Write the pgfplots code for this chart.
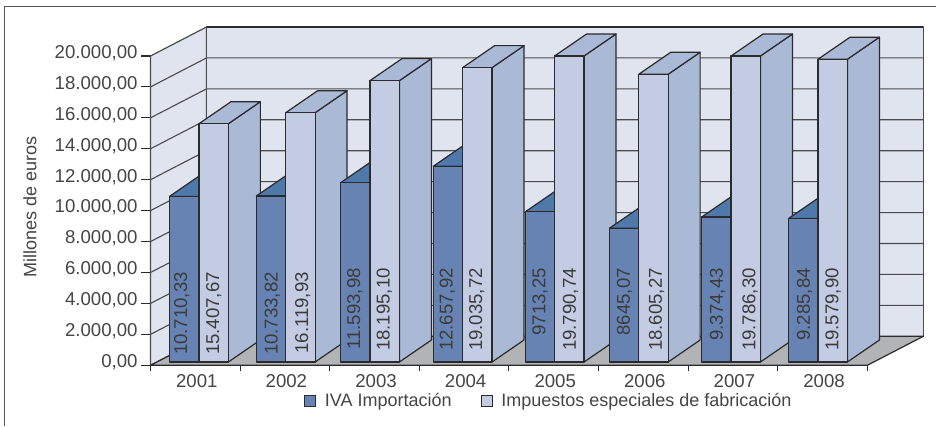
\documentclass[border=0pt]{standalone}
\usepackage{fontspec}
\usepackage{pgfplots}
\pgfplotsset{compat=1.18}
\setmainfont{Liberation Sans}

\definecolor{ivafront}{HTML}{6783B3}
\definecolor{ivatop}{HTML}{4F78AB}
\definecolor{impfront}{HTML}{C3CCE2}
\definecolor{impside}{HTML}{A9B9D6}
\definecolor{wall}{HTML}{E0E4EF}
\definecolor{floorc}{HTML}{B2B3B5}
\definecolor{edge}{HTML}{2B2B2D}
\definecolor{txt}{HTML}{454545}

\newcommand{\fs}{\fontsize{18bp}{21bp}\selectfont}
\newcommand{\fl}{\fontsize{18.6bp}{21bp}\selectfont}

% depth of the bars and of the box, in axis units
\def\bw{0.328}
\def\ddx{0.357}
\def\ddy{1422.6}
\def\base{213}
\def\wdx{0.625}
\def\wdy{1875}

\newcommand{\poly}[2]{\edef\tmp{\noexpand\addplot[forget plot,line join=round,line width=1.2bp,#1] coordinates {#2} -- cycle;}\tmp}

\newcommand{\gridline}[1]{\edef\tmp{\noexpand\addplot[forget plot,line width=1.1bp,draw=edge!85] coordinates {(-0.5,#1) (\fpeval{-0.5+\wdx},\fpeval{#1+\wdy}) (8.125,\fpeval{#1+\wdy})};}\tmp}

% #2 value, #3 left end of the bar, #4 colour
\newcommand{\onebar}[4]{%
  \poly{fill=#4,draw=edge}{(\fpeval{#3+\bw},\fpeval{#2+\base}) (\fpeval{#3+\bw+\ddx},\fpeval{#2+\base+\ddy}) (\fpeval{#3+\bw+\ddx},\fpeval{\base+\ddy}) (\fpeval{#3+\bw},\base)}%
}
\newcommand{\barface}[5]{%
  \poly{fill=#4,draw=edge}{(#3,\fpeval{#2+\base}) (\fpeval{#3+\ddx},\fpeval{#2+\base+\ddy}) (\fpeval{#3+\bw+\ddx},\fpeval{#2+\base+\ddy}) (\fpeval{#3+\bw},\fpeval{#2+\base})}%
  \poly{fill=#5,draw=edge}{(#3,\base) (#3,\fpeval{#2+\base}) (\fpeval{#3+\bw},\fpeval{#2+\base}) (\fpeval{#3+\bw},\base)}%
}
% #1 pos, #2 iva, #3 impuestos, #4 #5 their labels, #6 where the labels end
\newcommand{\yearbars}[6]{%
  \onebar{#1}{#2}{\fpeval{#1-\bw}}{ivatop}%
  \barface{#1}{#2}{\fpeval{#1-\bw}}{ivatop}{ivafront}%
  \onebar{#1}{#3}{#1}{impside}%
  \barface{#1}{#3}{#1}{impside}{impfront}%
  \def\labtop{#6}\def\labiva{#4}\def\labimp{#5}%
}
% label centres across the bars, as they stand in the picture
\newcommand{\barlabels}[2]{%
  \edef\tmp{\noexpand\node[barlabel] at (axis cs:#1,\labtop) {\labiva};
    \noexpand\node[barlabel] at (axis cs:#2,\labtop) {\labimp};}\tmp
}

\begin{document}
\begin{tikzpicture}[x=1bp,y=1bp,barlabel/.style={rotate=90,anchor=east,inner sep=0pt,font=\fl,text=txt!85!black}]
\useasboundingbox (0,0) rectangle (936,426);
\draw[line width=1.1bp,draw=edge!80] (4.6,0) -- (4.6,419.3) -- (936,419.3);
\begin{axis}[
    at={(150.5bp,60.7bp)}, anchor=south west,
    scale only axis, width=772.8bp, height=338.3bp,
    clip=false,
    xmin=-0.5, xmax=8.125, ymin=0, ymax=21875,
    axis line style={draw=none},
    tick align=outside, xtick pos=bottom, ytick pos=left,
    major tick length=9.5bp, minor tick length=6bp,
    tick style={line width=1.1bp,draw=edge},
    major x tick style={draw=none},
    xtick={0,...,7},
    xticklabels={2001,2002,2003,2004,2005,2006,2007,2008},
    minor xtick={-0.5,0.5,...,7.5},
    ytick={0,2000,...,20000},
    scaled y ticks=false,
    /pgf/number format/.cd, fixed, fixed zerofill, precision=2, use comma, 1000 sep={.}, assume math mode=true,
    /pgfplots/.cd,
    every tick label/.append style={font=\fl,text=txt},
    yticklabel style={yshift=3bp},
    xticklabel style={xshift=1.5bp,yshift=3.5bp},
    ylabel={Millones de euros},
    every axis y label/.style={at={(axis cs:-1.845,10268)},rotate=90,anchor=center,font=\fs,text=txt},
    legend columns=2,
    legend cell align=left,
    legend style={at={(axis description cs:0.1986,-0.1055)},anchor=west,draw=none,fill=none,inner sep=0pt,font=\fs,text=txt,
      /tikz/every even column/.append style={column sep=27bp}},
    legend image code/.code={\draw[#1,line width=1.1bp] (0bp,-5.5bp) rectangle (11bp,5.5bp); \path (18bp,0bp);},
  ]
  \addlegendimage{fill=ivafront,draw=edge}
  \addlegendimage{fill=impfront,draw=edge}
  \legend{IVA Importación,Impuestos especiales de fabricación}

  % box
  \poly{fill=wall,draw=edge!85}{(-0.5,0) (-0.5,20000) (\fpeval{-0.5+\wdx},21875) (\fpeval{-0.5+\wdx},1875)}
  \poly{fill=wall,draw=edge!85}{(\fpeval{-0.5+\wdx},1875) (\fpeval{-0.5+\wdx},21875) (8.125,21875) (8.125,1875)}
  \poly{fill=floorc,draw=edge}{(-0.5,0) (7.5,0) (8.125,1875) (\fpeval{-0.5+\wdx},1875)}
  \gridline{2000}\gridline{4000}\gridline{6000}\gridline{8000}\gridline{10000}
  \gridline{12000}\gridline{14000}\gridline{16000}\gridline{18000}
  \addplot[forget plot,line width=1.8bp,draw=edge] coordinates {(\fpeval{-0.5+\wdx},21875) (8.125,21875)};

  % values per year
  \yearbars{0.041}{10710.33}{15407.67}{10.710,33}{15.407,67}{6033}\barlabels{-0.151}{0.208}
  \yearbars{1.009}{10733.82}{16119.93}{10.733,82}{16.119,93}{6033}\barlabels{0.859}{1.200}
  \yearbars{1.950}{11593.98}{18195.10}{11.593,98}{18.195,10}{6292}\barlabels{1.780}{2.110}
  \yearbars{2.984}{12657.92}{19035.72}{12.657,92}{19.035,72}{6292}\barlabels{2.814}{3.142}
  \yearbars{4.011}{9713.25}{19790.74}{9713,25}{19.790,74}{6292}\barlabels{3.847}{4.188}
  \yearbars{4.949}{8645.07}{18605.27}{8645,07}{18.605,27}{6292}\barlabels{4.791}{5.149}
  \yearbars{5.979}{9374.43}{19786.30}{9.374,43}{19.786,30}{6292}\barlabels{5.830}{6.192}
  \yearbars{6.950}{9285.84}{19579.90}{9.285,84}{19.579,90}{6292}\barlabels{6.800}{7.118}
\end{axis}
\end{tikzpicture}
\end{document}
